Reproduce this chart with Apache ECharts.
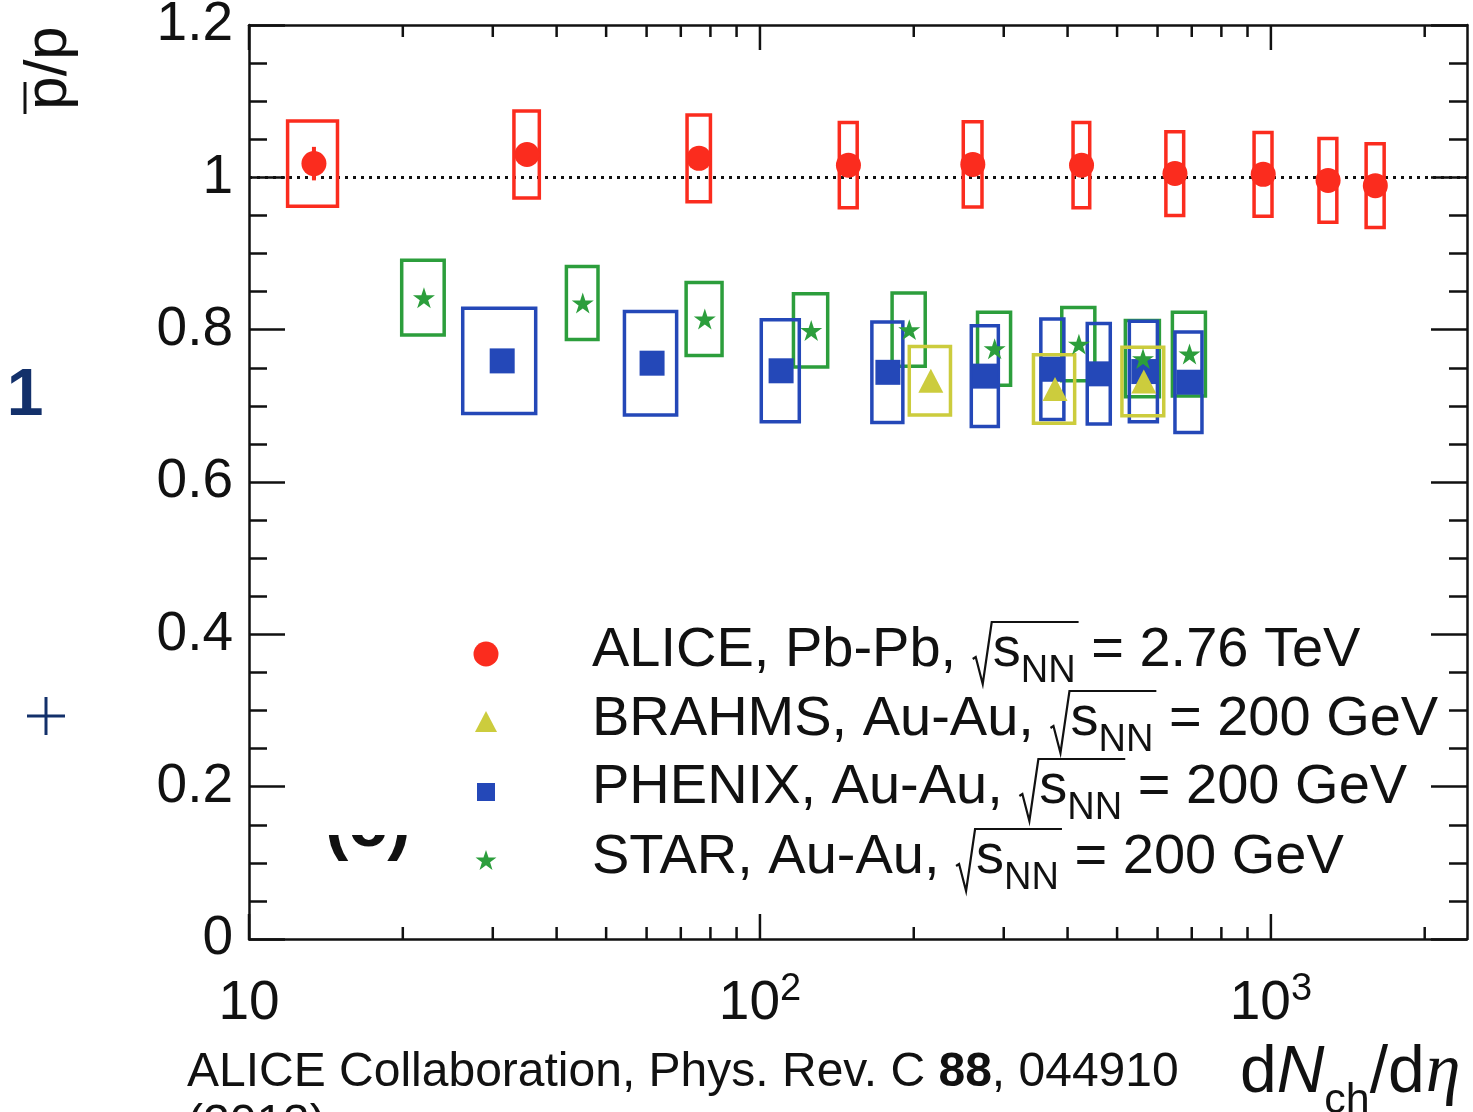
<!DOCTYPE html>
<html>
<head>
<meta charset="utf-8">
<title>pbar/p ratio vs dNch/deta</title>
<script src="https://cdn.jsdelivr.net/npm/echarts@6/dist/echarts.min.js"></script>
<style>
  html, body { margin: 0; padding: 0; background: #fff; }
  #chart { width: 1473px; height: 1112px; }
</style>
</head>
<body>
<div id="chart"></div>
<script>
// ALICE, Pb-Pb, 2.76 TeV
const aliceDNdEta    = [13.4, 35, 76, 149, 261, 426, 649, 966, 1294, 1601];
const aliceDNdEtaErr = [1.5, 2, 4, 6, 11, 16, 26, 39, 52, 65];
const aliceRatio     = [1.018, 1.030, 1.025, 1.016, 1.017, 1.016, 1.005, 1.004, 0.996, 0.989];
const aliceStat      = [0.022, 0.008, 0.007, 0.006, 0.005, 0.005, 0.005, 0.005, 0.005, 0.005];
const aliceSys       = [0.056, 0.057, 0.057, 0.056, 0.056, 0.056, 0.055, 0.055, 0.055, 0.055];

// STAR, Au-Au, 200 GeV
const starDNdEta    = [22, 45, 78, 126, 196, 288, 421, 562, 693];
const starDNdEtaErr = [2.1, 3.2, 6.3, 9.7, 14.6, 21.4, 31.3, 43, 51.5];
const starRatio     = [0.842, 0.835, 0.814, 0.799, 0.800, 0.775, 0.781, 0.762, 0.768];
const starSys       = [0.049, 0.048, 0.048, 0.048, 0.048, 0.048, 0.048, 0.050, 0.055];

// PHENIX, Au-Au, 200 GeV
const phenixDNdEta    = [31.3, 61.5, 110, 178, 276, 374, 461, 564, 691];
const phenixDNdEtaErr = [5.1, 7.2, 9.4, 12.4, 16.8, 19.4, 23.9, 35.6, 42];
const phenixRatio     = [0.759, 0.756, 0.746, 0.744, 0.739, 0.748, 0.742, 0.745, 0.731];
const phenixSys       = [0.069, 0.068, 0.067, 0.066, 0.066, 0.066, 0.066, 0.066, 0.066];

// BRAHMS, Au-Au, 200 GeV
const brahmsDNdEta    = [216, 378, 564];
const brahmsDNdEtaErr = [20, 35, 53];
const brahmsRatio     = [0.733, 0.722, 0.732];
const brahmsSys       = [0.045, 0.045, 0.045];

// Axis ticks
const xMajorTicks = [10, 100, 1000];
const xMinorTicks = [20, 30, 40, 50, 60, 70, 80, 90, 200, 300, 400, 500, 600, 700, 800, 900, 2000];
const xLabelExponent = { 10: '', 100: '2', 1000: '3' };
const yTicks = [0, 0.2, 0.4, 0.6, 0.8, 1, 1.2];
const unityLevel = 1;

// Legend text
const legendLabels   = ['ALICE, Pb-Pb, ', 'BRAHMS, Au-Au, ', 'PHENIX, Au-Au, ', 'STAR, Au-Au, '];
const legendEnergies = [' = 2.76 TeV', ' = 200 GeV', ' = 200 GeV', ' = 200 GeV'];
const citation = ['ALICE Collaboration, Phys. Rev. C ', '88', ', 044910'];
const citationYear = '(2013)';

const FONT = '"Liberation Sans", Arial, Helvetica, sans-serif';
const SERIF = '"Liberation Serif", "Times New Roman", serif';
const INK = '#111';
const RED = '#fb2c1e', BLUE = '#2448b8', GREEN = '#2c9e3c', YELLOW = '#cccc3d', NAVY = '#13306a';
const STAR_PATH = 'path://M50 0 L61.2 34.5 L97.6 34.5 L68.2 55.9 L79.4 90.5 L50 69.1 L20.6 90.5 L31.8 55.9 L2.4 34.5 L38.8 34.5 Z';

const mctx = document.createElement('canvas').getContext('2d');
function measure(text, size, style) {
  mctx.font = (style || '') + ' ' + size + 'px ' + FONT;
  return mctx.measureText(text).width;
}
// text element placed by its alphabetic baseline
function textAt(text, x, base, size, opts) {
  opts = opts || {};
  return {
    type: 'text', x: x, y: base - 0.31 * size, silent: true, z: opts.z || 50,
    style: {
      text: text,
      font: (opts.style || '') + ' ' + size + 'px ' + (opts.family || FONT),
      fill: opts.fill || INK,
      align: opts.align || 'left',
      verticalAlign: 'middle'
    }
  };
}

function boxSeries(name, xs, xe, ys, ye, color, z) {
  return {
    type: 'custom', name: name, z: z, silent: true,
    data: xs.map((x, i) => [x, ys[i], xe[i], ye[i]]),
    encode: { x: 0, y: 1 },
    renderItem(params, api) {
      const x = api.value(0), y = api.value(1), ex = api.value(2), ey = api.value(3);
      const a = api.coord([x - ex, y + ey]);
      const b = api.coord([x + ex, y - ey]);
      return {
        type: 'rect',
        shape: { x: a[0], y: a[1], width: b[0] - a[0], height: b[1] - a[1] },
        style: { fill: 'none', stroke: color, lineWidth: 3.5 }
      };
    }
  };
}

function markerSeries(name, xs, ys, symbol, size, color, z, extra) {
  return Object.assign({
    type: 'scatter', name: name, z: z, silent: true,
    data: xs.map((x, i) => [x, ys[i]]),
    symbol: symbol, symbolSize: size, symbolKeepAspect: true,
    itemStyle: { color: color, opacity: 1 }
  }, extra || {});
}

// frame ticks on the logarithmic x axis (bottom and top edges)
const xTickSeries = {
  type: 'custom', z: 20, silent: true,
  data: xMajorTicks.map(v => [v, 1]).concat(xMinorTicks.map(v => [v, 0])),
  encode: { x: 0 },
  renderItem(params, api) {
    const v = api.value(0);
    const len = api.value(1) ? 25 : 12;
    const b = api.coord([v, yTicks[0]]);
    const t = api.coord([v, yTicks[yTicks.length - 1]]);
    const st = { stroke: INK, lineWidth: 2.5 };
    return {
      type: 'group', children: [
        { type: 'line', shape: { x1: b[0], y1: b[1], x2: b[0], y2: b[1] - len }, style: st },
        { type: 'line', shape: { x1: t[0], y1: t[1], x2: t[0], y2: t[1] + len }, style: st }
      ]
    };
  }
};

const aliceStatSeries = {
  type: 'custom', z: 9, silent: true,
  data: aliceDNdEta.map((x, i) => [x, aliceRatio[i], aliceStat[i]]),
  encode: { x: 0, y: 1 },
  renderItem(params, api) {
    const x = api.value(0), y = api.value(1), e = api.value(2);
    const a = api.coord([x, y + e]), b = api.coord([x, y - e]);
    return { type: 'line', shape: { x1: a[0], y1: a[1], x2: b[0], y2: b[1] }, style: { stroke: RED, lineWidth: 4 } };
  }
};

// ---------- graphic text: titles, legend, notes ----------
const graphics = [];

// y title: pbar/p, rotated
graphics.push({
  type: 'text', x: 49, y: 68, rotation: Math.PI / 2, silent: true,
  style: { text: 'p/p', font: '60px ' + FONT, fill: INK, align: 'center', verticalAlign: 'middle' }
});
graphics.push({ type: 'line', silent: true, shape: { x1: 25, y1: 82, x2: 25, y2: 114 }, style: { stroke: INK, lineWidth: 3 } });

// x title: dN_ch/d eta
(function () {
  const size = 66, sub = 43, base = 1094;
  let x = 1240;
  graphics.push(textAt('d', x, base, size)); x += measure('d', size);
  graphics.push(textAt('N', x, base, size, { style: 'italic' })); x += measure('N', size, 'italic');
  graphics.push(textAt('ch', x, base + 20, sub)); x += measure('ch', sub);
  graphics.push(textAt('/d', x, base, size)); x += measure('/d', size);
  graphics.push(textAt('\u03b7', x + 1, base, size + 4, { style: 'italic', family: SERIF }));
})();

// legend
(function () {
  const x0 = 592, markerX = 486;
  const bases = [668, 737, 805, 875];
  const markerY = [654, 722, 792, 860];
  const size = 56, sub = 38;
  legendLabels.forEach((label, i) => {
    const base = bases[i];
    let x = x0;
    graphics.push(textAt(label, x, base, size));
    x += measure(label, size);
    const r = x + 1;
    const sx = r + 20;
    const sw = measure('s', size);
    const nw = measure('NN', sub);
    const end = sx + sw + nw + 3;
    graphics.push({
      type: 'polyline', silent: true, z: 50,
      shape: { points: [[r, base - 9], [r + 3, base - 11], [r + 10, base + 16], [r + 19, base - 46], [end, base - 46]] },
      style: { stroke: INK, lineWidth: 2.2, fill: 'none' }
    });
    graphics.push(textAt('s', sx, base, size));
    graphics.push(textAt('NN', sx + sw, base + 15, sub));
    graphics.push(textAt(legendEnergies[i], sx + sw + nw, base, size));
  });
  // legend markers
  graphics.push({ type: 'circle', silent: true, shape: { cx: markerX, cy: markerY[0], r: 12.5 }, style: { fill: RED } });
  graphics.push({ type: 'polygon', silent: true, shape: { points: [[markerX, markerY[1] - 11], [markerX + 11, markerY[1] + 10], [markerX - 11, markerY[1] + 10]] }, style: { fill: YELLOW } });
  graphics.push({ type: 'rect', silent: true, shape: { x: markerX - 9, y: markerY[2] - 9, width: 18, height: 18 }, style: { fill: BLUE } });
  const sp = [];
  for (let k = 0; k < 10; k++) {
    const ang = -Math.PI / 2 + k * Math.PI / 5;
    const rr = k % 2 === 0 ? 11 : 4.3;
    sp.push([markerX + rr * Math.cos(ang), markerY[3] + 1 + rr * Math.sin(ang)]);
  }
  graphics.push({ type: 'polygon', silent: true, shape: { points: sp }, style: { fill: GREEN } });
})();

// panel tag, partly hidden behind the legend area
graphics.push(textAt('(c)', 325, 848, 70, { style: 'bold', z: 40 }));
graphics.push({ type: 'rect', silent: true, z: 45, shape: { x: 300, y: 770, width: 125, height: 65 }, style: { fill: '#fff' } });

// citation
(function () {
  const size = 48, base = 1088;
  let x = 187;
  graphics.push(textAt(citation[0], x, base, size)); x += measure(citation[0], size);
  graphics.push(textAt(citation[1], x, base, size, { style: 'bold' })); x += measure(citation[1], size, 'bold');
  graphics.push(textAt(citation[2], x, base, size));
  graphics.push(textAt(citationYear, 187, 1140, size));
})();

// slide fragments at the left edge
graphics.push(textAt('1', 25, 417, 66, { style: 'bold', fill: NAVY, align: 'center' }));
graphics.push({ type: 'line', silent: true, shape: { x1: 27, y1: 716, x2: 65, y2: 716 }, style: { stroke: NAVY, lineWidth: 3 } });
graphics.push({ type: 'line', silent: true, shape: { x1: 46, y1: 697, x2: 46, y2: 735 }, style: { stroke: NAVY, lineWidth: 3 } });

const axisLineStyle = { color: INK, width: 2.5 };

const option = {
  animation: false,
  backgroundColor: '#fff',
  grid: { left: 249, right: 6, top: 25, bottom: 173, containLabel: false, outerBoundsMode: 'none' },
  xAxis: [
    {
      type: 'log', logBase: 10, min: 10, max: 2420, position: 'bottom',
      axisLine: { show: true, onZero: false, lineStyle: axisLineStyle },
      axisTick: { show: false }, minorTick: { show: false },
      splitLine: { show: false }, minorSplitLine: { show: false },
      axisLabel: {
        margin: 32, showMaxLabel: false, hideOverlap: false,
        formatter: v => {
          const key = Math.round(v);
          if (!(key in xLabelExponent)) return '';
          const e = xLabelExponent[key];
          return e ? '{b|10}{s|' + e + '}' : '{b|10}';
        },
        rich: {
          b: { fontSize: 55, fontFamily: FONT, color: INK, lineHeight: 60, padding: [7, 0, 0, 0], verticalAlign: 'bottom' },
          s: { fontSize: 38, fontFamily: FONT, color: INK, lineHeight: 38, verticalAlign: 'top' }
        }
      }
    },
    {
      type: 'log', logBase: 10, min: 10, max: 2420, position: 'top',
      axisLine: { show: true, onZero: false, lineStyle: axisLineStyle },
      axisTick: { show: false }, axisLabel: { show: false },
      splitLine: { show: false }, minorTick: { show: false }
    }
  ],
  yAxis: [
    {
      type: 'value', min: yTicks[0], max: yTicks[yTicks.length - 1], interval: 0.2, position: 'left',
      axisLine: { show: true, onZero: false, lineStyle: axisLineStyle },
      axisTick: { show: true, inside: true, length: 36, lineStyle: axisLineStyle },
      minorTick: { show: true, splitNumber: 4, length: 18, lineStyle: axisLineStyle },
      splitLine: { show: false }, minorSplitLine: { show: false },
      axisLabel: {
        fontSize: 55, fontFamily: FONT, color: INK, margin: 16,
        padding: [10, 0, 0, 0], showMinLabel: true, showMaxLabel: true
      }
    },
    {
      type: 'value', min: yTicks[0], max: yTicks[yTicks.length - 1], interval: 0.2, position: 'right',
      axisLine: { show: true, onZero: false, lineStyle: axisLineStyle },
      axisTick: { show: true, inside: true, length: 36, lineStyle: axisLineStyle },
      minorTick: { show: true, splitNumber: 4, length: 18, lineStyle: axisLineStyle },
      splitLine: { show: false }, axisLabel: { show: false }
    }
  ],
  series: [
    xTickSeries,
    boxSeries('STAR sys', starDNdEta, starDNdEtaErr, starRatio, starSys, GREEN, 3),
    boxSeries('PHENIX sys', phenixDNdEta, phenixDNdEtaErr, phenixRatio, phenixSys, BLUE, 4),
    boxSeries('BRAHMS sys', brahmsDNdEta, brahmsDNdEtaErr, brahmsRatio, brahmsSys, YELLOW, 5),
    boxSeries('ALICE sys', aliceDNdEta, aliceDNdEtaErr, aliceRatio, aliceSys, RED, 6),
    markerSeries('PHENIX', phenixDNdEta, phenixRatio, 'rect', 25, BLUE, 10),
    markerSeries('STAR', starDNdEta, starRatio, STAR_PATH, 22, GREEN, 11),
    markerSeries('BRAHMS', brahmsDNdEta, brahmsRatio, 'triangle', [25, 24], YELLOW, 12),
    aliceStatSeries,
    markerSeries('ALICE', aliceDNdEta, aliceRatio, 'circle', 25, RED, 13, {
      markLine: {
        silent: true, symbol: ['none', 'none'], label: { show: false },
        lineStyle: { type: [3, 5], color: INK, width: 3 },
        data: [{ yAxis: unityLevel }]
      }
    })
  ],
  graphic: graphics
};

const chart = echarts.init(document.getElementById('chart'), null, { renderer: 'canvas' });
chart.setOption(option);
</script>
</body>
</html>
